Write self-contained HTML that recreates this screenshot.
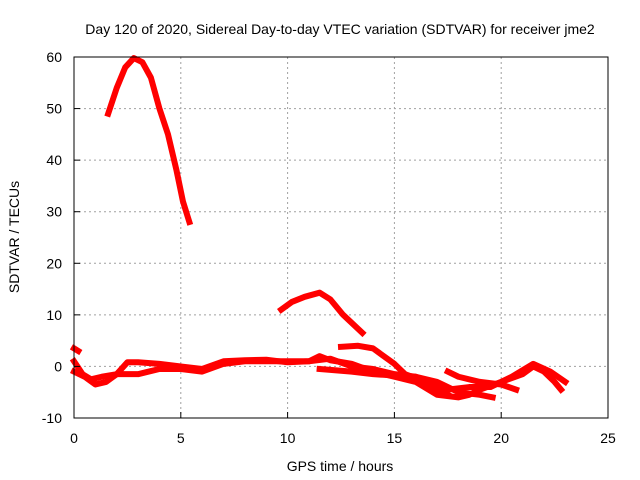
<!DOCTYPE html>
<html><head><meta charset="utf-8"><style>
body{margin:0;background:#fff;}
svg{display:block;font-family:"Liberation Sans",sans-serif;}
</style></head><body>
<svg id="chart" width="640" height="480">
<text x="340" y="34" font-size="14" text-anchor="middle">Day 120 of 2020, Sidereal Day-to-day VTEC variation (SDTVAR) for receiver jme2</text>
<text x="340" y="471" font-size="14" text-anchor="middle">GPS time / hours</text>
<text transform="translate(19,237) rotate(-90)" font-size="14" text-anchor="middle">SDTVAR / TECUs</text>
<g id="grid"></g><g id="series"></g><g id="axes"></g>
</svg>
<script>
const xTicks=[0,5,10,15,20,25];
const yTicks=[-10,0,10,20,30,40,50,60];
const seriesArc=[[1.6,49],[2,54],[2.4,58],[2.8,59.8],[3.2,59],[3.6,56],[4,50],[4.4,45],[4.8,38],[5.1,32],[5.4,28]];
const seriesMid=[[9.7,11],[10.2,12.5],[10.8,13.5],[11.5,14.3],[12,13],[12.6,10],[13.5,6.5]];
const seriesLow1=[[0,1],[0.4,-1.5],[0.8,-2.5],[1.3,-2],[2,-1.5],[3,-1.5],[3.5,-1],[4,-0.5],[5,-0.5],[6,-1],[7,0.5],[8,1],[9,1],[10,1],[11,1],[12,1.5],[13,0],[14,-0.5],[15,-1.5],[16,-2],[17,-3],[18,-5],[19,-5.5],[19.6,-6]];
const seriesLow2=[[0,-1],[0.5,-2],[1,-3.5],[1.5,-3],[2,-1.5],[2.5,0.8],[3,0.8],[4,0.5],[5,0],[6,-0.5],[7,1],[8,1.2],[9,1.3],[10,0.8],[11,1],[11.5,2],[12,1.2],[13,0.5],[14,-1],[15,-2],[16,-3],[17,-5.5],[18,-6],[18.5,-5.5],[19,-4.5],[20,-3],[21,-1.5],[21.5,0],[22,-1],[22.5,-3],[22.8,-4.5]];
const seriesLow3=[[12.5,3.8],[13.3,4],[14,3.5],[15,0.5],[15.5,-1.5],[16.5,-3],[17.5,-4.5],[18.5,-4],[19.5,-4],[20.5,-2],[21.5,0.5],[22.3,-1],[23,-3]];
const seriesLow4=[[11.5,-0.5],[13,-1],[14,-1.5],[16,-2],[17,-4.5],[17.5,-5.5]];
const seriesLow5=[[17.5,-1],[18,-2],[19,-3],[20,-3.5],[20.7,-4.5]];
const seriesLow6=[[0,3.5],[0.2,3]];
const allSeries=[seriesArc,seriesMid,seriesLow1,seriesLow2,seriesLow3,seriesLow4,seriesLow5,seriesLow6];
const L=74,R=608,T=57,B=418,xMin=0,xMax=25,yMin=-10,yMax=60;
const sx=v=>L+(v-xMin)/(xMax-xMin)*(R-L);
const sy=v=>B-(v-yMin)/(yMax-yMin)*(B-T);
const NS="http://www.w3.org/2000/svg";
function mk(t,a,p){const e=document.createElementNS(NS,t);for(const k in a)e.setAttribute(k,a[k]);p.appendChild(e);return e;}
const grid=document.getElementById('grid'),axes=document.getElementById('axes'),ser=document.getElementById('series');
xTicks.forEach(t=>{
 if(t>xMin&&t<xMax){const g=mk('line',{x1:sx(t),x2:sx(t),y1:T,y2:B,stroke:'#a0a0a0','stroke-dasharray':'2,3'},grid);
 
 }
 const tk=mk('line',{x1:sx(t),x2:sx(t),y1:B,y2:B-6,stroke:'#000'},axes);
 
 
 const tx=mk('text',{x:sx(t),y:B+25,'font-size':14,'text-anchor':'middle'},axes);tx.textContent=t;
 
 
});
yTicks.forEach(t=>{
 if(t>yMin&&t<yMax){const g=mk('line',{x1:L,x2:R,y1:sy(t),y2:sy(t),stroke:'#a0a0a0','stroke-dasharray':'2,3'},grid);
 
 }
 const tk=mk('line',{x1:L,x2:L+6,y1:sy(t),y2:sy(t),stroke:'#000'},axes);
 
 
 const tx=mk('text',{x:L-12,y:sy(t)+5,'font-size':14,'text-anchor':'end'},axes);tx.textContent=t;
 
 
});
const frame=mk('rect',{x:L,y:T,width:R-L,height:B-T,fill:'none',stroke:'#000'},axes);


allSeries.forEach(s=>{
 const p=mk('polyline',{points:s.map(d=>sx(d[0])+','+sy(d[1])).join(' '),fill:'none',stroke:'#ff0000','stroke-width':6,'stroke-linejoin':'round','stroke-linecap':'square'},ser);
 
 
});
</script>
</body></html>
